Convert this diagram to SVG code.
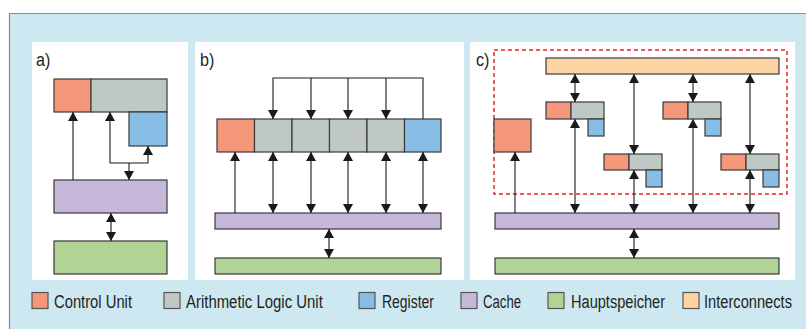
<svg xmlns="http://www.w3.org/2000/svg" width="806" height="329" viewBox="0 0 806 329">
<style>
.cu{fill:#f4977a;stroke:#3a3a3a;stroke-width:1.2}
.alu{fill:#bfc8c2;stroke:#3a3a3a;stroke-width:1.2}
.reg{fill:#88bde6;stroke:#3a3a3a;stroke-width:1.2}
.cache{fill:#c6b8d8;stroke:#3a3a3a;stroke-width:1.2}
.mem{fill:#b1d395;stroke:#3a3a3a;stroke-width:1.2}
.ic{fill:#fdd5a5;stroke:#3a3a3a;stroke-width:1.2}
.panel{fill:#ffffff}
.c{fill:none;stroke:#1a1a1a;stroke-width:1.1}
.e{marker-end:url(#ah)}
.d{marker-start:url(#ah);marker-end:url(#ah)}
.lbl{font-family:"Liberation Sans",Arial,sans-serif;font-size:19px;fill:#231f20}
.leg{font-family:"Liberation Sans",Arial,sans-serif;font-size:19px;fill:#231f20}
.sw{stroke:#555;stroke-width:1.2}
</style>
<defs>
<marker id="ah" viewBox="0 0 9 10" refX="9" refY="5" markerWidth="9" markerHeight="10" markerUnits="userSpaceOnUse" orient="auto-start-reverse">
<path d="M0,0 L9,5 L0,10 z" fill="#1a1a1a"/>
</marker>
</defs>
<rect x="0" y="0" width="806" height="329" fill="#ffffff"/>
<rect x="9" y="13" width="797" height="316" fill="#cde8f0"/>
<path d="M9.5,329 V13.5 H806" fill="none" stroke="#8a8a8a" stroke-width="1.2"/>

<rect class="panel" x="32" y="42" width="156" height="238"/>
<rect class="panel" x="195" y="42" width="269" height="238"/>
<rect class="panel" x="470" y="42" width="325" height="238"/>

<text class="lbl" transform="translate(36,66) scale(0.85,1)">a)</text>
<text class="lbl" transform="translate(200,66) scale(0.85,1)">b)</text>
<text class="lbl" transform="translate(476,66) scale(0.85,1)">c)</text>

<g id="panel-a">
<g id="a-cu"><rect class="cu" x="54" y="79" width="37" height="33"/></g>
<g id="a-alu"><rect class="alu" x="91" y="79" width="76" height="33"/></g>
<g id="a-reg"><rect class="reg" x="129" y="112" width="38" height="34"/></g>
<g id="a-cache"><rect class="cache" x="54" y="180" width="113" height="33"/></g>
<g id="a-mem"><rect class="mem" x="54" y="241" width="113" height="33"/></g>
</g>

<g id="panel-b">
<g id="b-cu"><rect class="cu" x="217" y="119" width="37.5" height="33"/></g>
<g id="b-alu1"><rect class="alu" x="254.5" y="119" width="37.5" height="33"/></g>
<g id="b-alu2"><rect class="alu" x="292" y="119" width="37.5" height="33"/></g>
<g id="b-alu3"><rect class="alu" x="329.5" y="119" width="37.5" height="33"/></g>
<g id="b-alu4"><rect class="alu" x="367" y="119" width="37.5" height="33"/></g>
<g id="b-reg"><rect class="reg" x="404.5" y="119" width="36.5" height="33"/></g>
<g id="b-cache"><rect class="cache" x="215" y="213" width="226" height="16"/></g>
<g id="b-mem"><rect class="mem" x="215" y="258" width="226" height="16"/></g>
</g>

<g id="panel-c">
<rect x="494" y="50" width="293" height="144" fill="none" stroke="#e8222a" stroke-width="1.5" stroke-dasharray="4,3"/>
<g id="c-ic"><rect class="ic" x="546" y="58" width="233" height="16"/></g>
<g id="c-core1"><rect class="cu" x="546" y="102" width="25" height="17"/><rect class="alu" x="571" y="102" width="33" height="17"/><rect class="reg" x="588" y="119" width="16" height="17"/></g>
<g id="c-core2"><rect class="cu" x="604" y="154" width="25" height="16"/><rect class="alu" x="629" y="154" width="33" height="16"/><rect class="reg" x="646" y="170" width="16" height="17"/></g>
<g id="c-core3"><rect class="cu" x="663" y="102" width="25" height="17"/><rect class="alu" x="688" y="102" width="33" height="17"/><rect class="reg" x="705" y="119" width="16" height="17"/></g>
<g id="c-core4"><rect class="cu" x="721" y="154" width="25" height="16"/><rect class="alu" x="746" y="154" width="33" height="16"/><rect class="reg" x="763" y="170" width="16" height="17"/></g>
<g id="c-cu"><rect class="cu" x="494" y="119" width="37" height="33"/></g>
<g id="c-cache"><rect class="cache" x="495" y="213" width="284" height="16"/></g>
<g id="c-mem"><rect class="mem" x="495" y="258" width="284" height="16"/></g>
</g>

<g id="connectors">
<path class="c e" d="M73,180 V112"/>
<path class="c d" d="M110,112 V163 H148 V146"/>
<path class="c e" d="M129,163 V180"/>
<path class="c d" d="M111,213 V241"/>

<path class="c e" d="M423,119 V78 H273 V119"/>
<path class="c e" d="M311,78 V119"/>
<path class="c e" d="M348,78 V119"/>
<path class="c e" d="M386,78 V119"/>
<path class="c e" d="M235,213 V152"/>
<path class="c d" d="M273,152 V213"/>
<path class="c d" d="M311,152 V213"/>
<path class="c d" d="M348,152 V213"/>
<path class="c d" d="M386,152 V213"/>
<path class="c d" d="M423,152 V213"/>
<path class="c d" d="M329,229 V258"/>

<path class="c d" d="M575,74 V102"/>
<path class="c d" d="M634,74 V154"/>
<path class="c d" d="M693,74 V102"/>
<path class="c d" d="M750,74 V154"/>
<path class="c d" d="M575,119 V213"/>
<path class="c d" d="M634,170 V213"/>
<path class="c d" d="M693,119 V213"/>
<path class="c d" d="M750,170 V213"/>
<path class="c e" d="M515,213 V152"/>
<path class="c d" d="M634,229 V258"/>
</g>

<g id="legend">
<rect class="sw" x="32" y="292.5" width="16" height="16" fill="#f4977a"/>
<text class="leg" transform="translate(54,308) scale(0.8,1)" textLength="97.5" lengthAdjust="spacingAndGlyphs">Control Unit</text>
<rect class="sw" x="164" y="292.5" width="16" height="16" fill="#bfc8c2"/>
<text class="leg" transform="translate(186,308) scale(0.8,1)" textLength="171" lengthAdjust="spacingAndGlyphs">Arithmetic Logic Unit</text>
<rect class="sw" x="359" y="292.5" width="16" height="16" fill="#88bde6"/>
<text class="leg" transform="translate(382,308) scale(0.8,1)" textLength="65" lengthAdjust="spacingAndGlyphs">Register</text>
<rect class="sw" x="461" y="292.5" width="16" height="16" fill="#c6b8d8"/>
<text class="leg" transform="translate(483,308) scale(0.8,1)" textLength="47.5" lengthAdjust="spacingAndGlyphs">Cache</text>
<rect class="sw" x="548" y="292.5" width="16" height="16" fill="#b1d395"/>
<text class="leg" transform="translate(571,308) scale(0.8,1)" textLength="117.5" lengthAdjust="spacingAndGlyphs">Hauptspeicher</text>
<rect class="sw" x="683" y="292.5" width="16" height="16" fill="#fdd5a5"/>
<text class="leg" transform="translate(704,308) scale(0.8,1)" textLength="110" lengthAdjust="spacingAndGlyphs">Interconnects</text>
</g>
</svg>
